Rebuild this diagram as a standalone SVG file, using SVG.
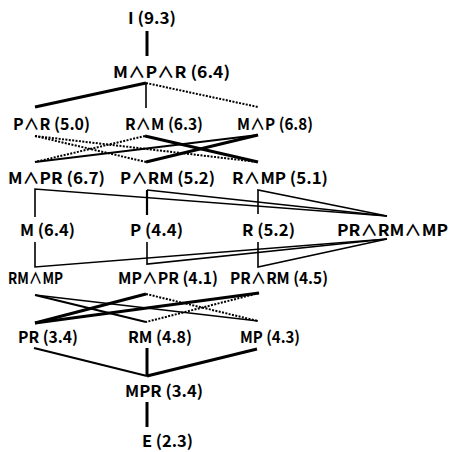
<svg xmlns="http://www.w3.org/2000/svg" width="450" height="452" viewBox="0 0 450 452">
<style>
text{font-family:"Noto Sans CJK JP","Liberation Sans",sans-serif;font-size:16px;font-weight:bold;fill:#000}
.c line,.c polyline{stroke:#000;fill:none;stroke-linecap:butt}
.k{stroke-width:3}
.m{stroke-width:2.2}
.t{stroke-width:1.6}
.d{stroke-width:2;stroke-dasharray:2 1.4}
</style>
<rect width="450" height="452" fill="#fff"/>
<g class="c" id="connectors">
<line class="k" x1="147" y1="31" x2="147" y2="56"/>
<line class="k" x1="146" y1="83" x2="35" y2="107"/>
<line class="t" x1="146" y1="83" x2="146" y2="108"/>
<line class="d" x1="146" y1="83" x2="258" y2="107"/>
<line class="d" x1="35" y1="136" x2="146" y2="162"/>
<line class="d" x1="35" y1="136" x2="258" y2="162"/>
<line class="d" x1="145" y1="136" x2="35" y2="162"/>
<line class="k" x1="145" y1="136" x2="258" y2="162"/>
<line class="m" x1="258" y1="135" x2="35" y2="162"/>
<line class="k" x1="258" y1="135" x2="146" y2="162"/>
<polyline class="t" points="35,217 35,189 387,216"/>
<polyline class="t" points="147,190 387,216"/>
<line class="m" x1="147" y1="190" x2="147" y2="215"/>
<polyline class="t" points="258,214 258,190 387,216"/>
<polyline class="t" points="35,242 35,267 387,239"/>
<polyline class="t" points="147,242 147,264 387,239"/>
<polyline class="t" points="258,242 258,267 387,239"/>
<line class="m" x1="35" y1="295" x2="146" y2="322"/>
<line class="t" x1="35" y1="295" x2="258" y2="321"/>
<line class="k" x1="146" y1="294" x2="35" y2="323"/>
<line class="d" x1="146" y1="294" x2="258" y2="321"/>
<line class="k" x1="259" y1="293" x2="35" y2="323"/>
<line class="d" x1="259" y1="293" x2="146" y2="322"/>
<line class="m" x1="34" y1="348" x2="147" y2="376"/>
<line class="k" x1="147" y1="348" x2="147" y2="376"/>
<line class="k" x1="257" y1="349" x2="147" y2="376"/>
<line class="k" x1="147" y1="402" x2="147" y2="427"/>
</g>
<g id="n-I"><text x="128" y="24" textLength="48" lengthAdjust="spacingAndGlyphs">I (9.3)</text></g>
<g id="n-MPR1"><text x="113" y="78" textLength="117" lengthAdjust="spacingAndGlyphs">M∧P∧R (6.4)</text></g>
<g id="n-PaR"><text x="13" y="130" textLength="77" lengthAdjust="spacingAndGlyphs">P∧R (5.0)</text></g>
<g id="n-RaM"><text x="125" y="130" textLength="78" lengthAdjust="spacingAndGlyphs">R∧M (6.3)</text></g>
<g id="n-MaP"><text x="237" y="130" textLength="76" lengthAdjust="spacingAndGlyphs">M∧P (6.8)</text></g>
<g id="n-MaPR"><text x="8" y="184" textLength="97" lengthAdjust="spacingAndGlyphs">M∧PR (6.7)</text></g>
<g id="n-PaRM"><text x="120" y="184" textLength="95" lengthAdjust="spacingAndGlyphs">P∧RM (5.2)</text></g>
<g id="n-RaMP"><text x="232" y="184" textLength="96" lengthAdjust="spacingAndGlyphs">R∧MP (5.1)</text></g>
<g id="n-M"><text x="20" y="236" textLength="55" lengthAdjust="spacingAndGlyphs">M (6.4)</text></g>
<g id="n-P"><text x="130" y="236" textLength="53" lengthAdjust="spacingAndGlyphs">P (4.4)</text></g>
<g id="n-R"><text x="242" y="236" textLength="53" lengthAdjust="spacingAndGlyphs">R (5.2)</text></g>
<g id="n-PRaRMaMP"><text x="337" y="236" textLength="111" lengthAdjust="spacingAndGlyphs">PR∧RM∧MP</text></g>
<g id="n-RMaMP"><text x="8" y="284" textLength="55" lengthAdjust="spacingAndGlyphs">RM∧MP</text></g>
<g id="n-MPaPR"><text x="118" y="284" textLength="100" lengthAdjust="spacingAndGlyphs">MP∧PR (4.1)</text></g>
<g id="n-PRaRM"><text x="230" y="284" textLength="98" lengthAdjust="spacingAndGlyphs">PR∧RM (4.5)</text></g>
<g id="n-PR"><text x="18" y="343" textLength="60" lengthAdjust="spacingAndGlyphs">PR (3.4)</text></g>
<g id="n-RM"><text x="128" y="343" textLength="64" lengthAdjust="spacingAndGlyphs">RM (4.8)</text></g>
<g id="n-MP"><text x="240" y="343" textLength="60" lengthAdjust="spacingAndGlyphs">MP (4.3)</text></g>
<g id="n-MPR"><text x="125" y="397" textLength="78" lengthAdjust="spacingAndGlyphs">MPR (3.4)</text></g>
<g id="n-E"><text x="142" y="447" textLength="51" lengthAdjust="spacingAndGlyphs">E (2.3)</text></g>
</svg>
